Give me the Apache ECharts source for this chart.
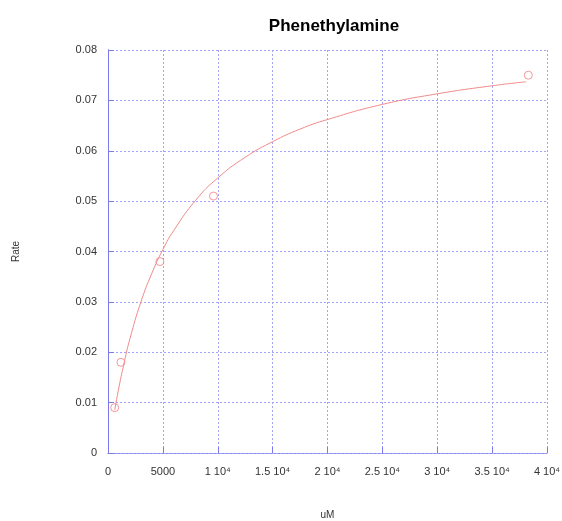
<!DOCTYPE html>
<html>
<head>
<meta charset="utf-8">
<script src="https://cdn.jsdelivr.net/npm/echarts@6/dist/echarts.min.js"></script>
<style>
  html, body { margin: 0; padding: 0; background: #fff; }
  #chart { width: 562px; height: 521px; }
</style>
</head>
<body>
<div id="chart"></div>
<script>
// measured points (uM, rate)
var obsUM = [610, 1180, 4730, 9610, 38300];
var obsRate = [0.009, 0.018, 0.038, 0.051, 0.075];

// fitted curve
var fitUM = [610, 1000, 1500, 2000, 3000, 4000, 5000, 6000, 8000, 10000, 12500, 15000, 17500, 20000, 25000, 30000, 35000, 38100];
var fitRate = [0.0085, 0.0131, 0.0182, 0.0227, 0.0300, 0.0357, 0.0404, 0.0442, 0.0502, 0.0546, 0.0587, 0.0618, 0.0643, 0.0662, 0.0692, 0.0713, 0.0729, 0.0737];

// x tick labels (every 5000)
var xTickLabels = ['0', '5000', '1 10⁴', '1.5 10⁴', '2 10⁴', '2.5 10⁴', '3 10⁴', '3.5 10⁴', '4 10⁴'];

function pairs(xs, ys) {
    var out = [];
    for (var i = 0; i < xs.length; i++) out.push([xs[i], ys[i]]);
    return out;
}

var chart = echarts.init(document.getElementById('chart'));
var font = 'Liberation Sans, Arial, sans-serif';
var axisBlue = '#7a7aee';
var gridBlue = '#a4a4f6';
var option = {
    animation: false,
    title: {
        text: 'Phenethylamine',
        left: 329, top: 13, textAlign: 'center',
        textStyle: { fontFamily: font, fontSize: 17, fontWeight: 'bold', color: '#000' }
    },
    grid: { left: 108, right: 15, top: 50, bottom: 68, outerBoundsMode: 'none', containLabel: false },
    xAxis: [{
        type: 'value', min: 0, max: 40000, interval: 5000,
        name: 'uM', nameLocation: 'middle', nameGap: 57,
        nameTextStyle: { fontFamily: font, fontSize: 10, color: '#333' },
        axisLine: { show: true, lineStyle: { color: axisBlue } },
        axisTick: { show: true, inside: true, length: 6, lineStyle: { color: axisBlue } },
        splitLine: { show: true, lineStyle: { color: gridBlue, type: [2, 2] } },
        axisLabel: {
            margin: 13, fontFamily: font, fontSize: 11, color: '#333',
            formatter: function (v) { return xTickLabels[Math.round(v / 5000)]; }
        }
    }, {
        type: 'value', min: 0, max: 40000, interval: 5000, position: 'top',
        axisLine: { show: true, lineStyle: { color: gridBlue, type: [2, 2] } },
        axisTick: { show: false }, axisLabel: { show: false }, splitLine: { show: false }
    }],
    yAxis: [{
        type: 'value', min: 0, max: 0.08, interval: 0.01,
        name: 'Rate', nameLocation: 'middle', nameGap: 87, nameRotate: 90,
        nameTextStyle: { fontFamily: font, fontSize: 10, color: '#333' },
        axisLine: { show: true, lineStyle: { color: axisBlue } },
        axisTick: { show: true, inside: true, length: 6, lineStyle: { color: axisBlue } },
        splitLine: { show: true, lineStyle: { color: gridBlue, type: [2, 2] } },
        axisLabel: {
            margin: 11, fontFamily: font, fontSize: 11, color: '#333',
            formatter: function (v) { return v === 0 ? '0' : v.toFixed(2); }
        }
    }, {
        type: 'value', min: 0, max: 0.08, interval: 0.01, position: 'right',
        axisLine: { show: true, lineStyle: { color: axisBlue } },
        axisTick: { show: false }, axisLabel: { show: false }, splitLine: { show: false }
    }],
    series: [
        {
            type: 'line', data: pairs(fitUM, fitRate), smooth: true,
            showSymbol: false, symbol: 'none',
            lineStyle: { color: '#f08a8a', width: 1 }
        },
        {
            type: 'scatter', data: pairs(obsUM, obsRate),
            symbol: 'circle', symbolSize: 8,
            itemStyle: { color: 'rgba(255,255,255,0)', borderColor: '#f08080', borderWidth: 1 }
        }
    ]
};
chart.setOption(option);
</script>
</body>
</html>
